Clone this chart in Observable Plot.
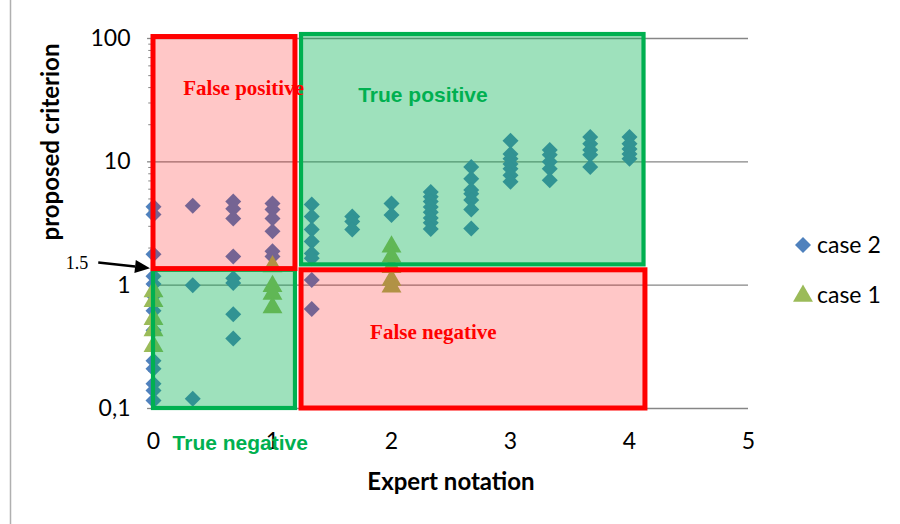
<!DOCTYPE html>
<html><head><meta charset="utf-8">
<script src="https://cdn.jsdelivr.net/npm/d3@7"></script>
<script src="https://cdn.jsdelivr.net/npm/@observablehq/plot@0.6"></script>
<style>
body{margin:0;background:#fff}
#chart{position:relative;width:900px;height:524px}
</style>
</head><body><div id="chart"></div>
<script>
// ---- data ----
const notation = [0, 0.33, 0.67, 1, 1.33, 1.67, 2, 2.33, 2.67, 3, 3.33, 3.67, 4];
const case2Values = [
  [4.33, 3.74, 1.78, 1.18, 1.02, 0.82, 0.62, 0.43, 0.244, 0.21, 0.159, 0.14, 0.116],
  [4.4, 1.0, 0.12],
  [4.76, 4.17, 3.47, 1.71, 1.14, 1.04, 0.58, 0.37],
  [4.6, 4.1, 3.47, 2.73, 1.88, 1.71],
  [4.5, 3.6, 2.83, 2.26, 1.81, 1.65, 1.1, 0.64],
  [3.6, 3.28, 2.83],
  [4.6, 3.7],
  [5.7, 5.2, 4.76, 4.3, 3.9, 3.5, 3.2, 2.85],
  [9.1, 7.3, 5.9, 5.5, 4.9, 4.1, 2.88],
  [14.8, 11.6, 10.6, 9.6, 8.8, 7.8, 6.9],
  [12.5, 11.4, 10, 8.8, 7.1],
  [15.9, 14, 12.5, 11.4, 9.1],
  [15.9, 14, 12.7, 11.6, 10.6]
];
const case1Notation = [0, 1, 2];
const case1Values = [
  [0.89, 0.74, 0.53, 0.43, 0.32],
  [1.42, 0.98, 0.85, 0.66],
  [2.05, 1.7, 1.4, 1.1, 0.97]
];
const yTicks = [0.1, 1, 10, 100];
const yTickLabels = ["0,1", "1", "10", "100"];
const xTicks = [0, 1, 2, 3, 4, 5];
const zoneNames = ["True positive", "True negative", "False positive", "False negative"];
const zoneX1 = [1.244, 0, 0, 1.244];
const zoneX2 = [4.122, 1.193, 1.193, 4.134];
const zoneY1 = [1.46, 0.1, 1.35, 0.1];
const zoneY2 = [107.7, 1.32, 102.8, 1.32];
const zoneColor = ["#00B050", "#00B050", "#FF0000", "#FF0000"];
const zoneLabelX = [1.72, 0.16, 0.25, 1.82];
const zoneLabelY = [34.7, 0.052, 39.5, 0.418];
const thresholdLabel = "1.5";
const legendLabels = ["case 2", "case 1"];

// ---- tables built from the arrays ----
const case2 = notation.flatMap((x, i) => case2Values[i].map(v => ({x, v})));
const case1 = case1Notation.flatMap((x, i) => case1Values[i].map(v => ({x, v})));
const zones = zoneNames.map((name, i) => ({
  name, x1: zoneX1[i], x2: zoneX2[i], y1: zoneY1[i], y2: zoneY2[i], color: zoneColor[i],
  lx: zoneLabelX[i], ly: zoneLabelY[i]
}));
const redZones = zones.filter(d => d.color === "#FF0000");
const greenZones = zones.filter(d => d.color !== "#FF0000");
const minor = [];
for (const d of [0.1, 1, 10]) for (let k = 2; k <= 9; k++) minor.push(d * k);

const sansFont = "Lato, 'Open Sans', sans-serif";

const plot = Plot.plot({
  width: 900, height: 524,
  marginLeft: 153, marginRight: 152, marginTop: 38, marginBottom: 116,
  x: {domain: [0, 5], axis: null},
  y: {type: "log", domain: [0.1, 100], axis: null},
  style: {background: "transparent", overflow: "visible"},
  marks: [
    Plot.ruleY(yTicks, {x1: 0, x2: 5, stroke: "#868686", strokeWidth: 1.3}),
    Plot.ruleY(yTicks, {x1: -0.05, x2: 0, stroke: "#868686", strokeWidth: 1.3}),
    Plot.ruleY(minor, {x1: -0.04, x2: 0, stroke: "#868686", strokeWidth: 1}),
    Plot.ruleX([0], {y1: 0.1, y2: 100, stroke: "#868686"}),
    Plot.dot(case2, {x: "x", y: "v", symbol: "diamond2", r: 7.2, fill: "#4F81BD", stroke: "none"}),
    Plot.dot(case1, {x: "x", y: "v", symbol: "triangle", r: 7.4, fill: "#9BBB59", stroke: "none"}),
    Plot.rect(zones, {x1: "x1", x2: "x2", y1: "y1", y2: "y2",
      fill: "color", fillOpacity: d => d.color === "#FF0000" ? 0.22 : 0.38,
      stroke: "color", strokeWidth: d => d.color === "#FF0000" ? 5 : 4.2}),
    Plot.text(yTickLabels, {x: 0, y: (d, i) => yTicks[i], text: d => d, dx: -23,
      textAnchor: "end", fontSize: 23, fontFamily: sansFont, fill: "#000"}),
    Plot.text(xTicks, {x: d => d, y: 0.1, text: d => String(d), dy: 33,
      fontSize: 23, fontFamily: sansFont, fill: "#000"}),
    Plot.text(["Expert notation"], {x: 2.5, y: 0.1, dy: 74, fontSize: 24,
      fontWeight: "bold", fontFamily: sansFont, fill: "#000"}),
    Plot.text(redZones, {x: "lx", y: "ly", text: "name", textAnchor: "start",
      fill: "#FF0000", fontWeight: "bold", fontSize: 21,
      fontFamily: "'Liberation Serif', 'Times New Roman', serif"}),
    Plot.text(greenZones, {x: "lx", y: "ly", text: "name", textAnchor: "start",
      fill: "#00B050", fontWeight: "bold", fontSize: 21,
      fontFamily: "'Liberation Sans', Arial, sans-serif"})
  ]
});

document.getElementById("chart").appendChild(plot);

const svg = d3.select(plot);
const sx = plot.scale("x"), sy = plot.scale("y");

// outer chart-area border (left edge visible)
svg.append("line").attr("x1", 10.5).attr("x2", 10.5).attr("y1", 0).attr("y2", 524)
  .attr("stroke", "#b0b0b0").attr("stroke-width", 1.5);

// y axis title
svg.append("text").attr("transform", "translate(59,142) rotate(-90)")
  .attr("text-anchor", "middle").attr("font-family", sansFont).attr("font-weight", "bold")
  .attr("font-size", 24).attr("fill", "#000").text("proposed criterion");

// 1.5 threshold annotation with arrow
const ax0 = sx.apply(-0.46), ay0 = sy.apply(1.51);
const ax1 = sx.apply(-0.025), ay1 = sy.apply(1.36);
svg.append("text").attr("x", ax0 - 10).attr("y", ay0 + 6).attr("text-anchor", "end")
  .attr("font-family", "'Liberation Serif', serif").attr("font-size", 18).attr("fill", "#000")
  .text(thresholdLabel);
const ang = Math.atan2(ay1 - ay0, ax1 - ax0);
const hl = 15, hw = 6.5;
const bx = ax1 - hl * Math.cos(ang), by = ay1 - hl * Math.sin(ang);
svg.append("line").attr("x1", ax0).attr("y1", ay0).attr("x2", bx).attr("y2", by)
  .attr("stroke", "#000").attr("stroke-width", 2.5);
svg.append("path").attr("d",
  `M${ax1},${ay1}L${bx + hw * Math.sin(ang)},${by - hw * Math.cos(ang)}L${bx - hw * Math.sin(ang)},${by + hw * Math.cos(ang)}Z`)
  .attr("fill", "#000");

// legend
const lg = svg.append("g");
const legendSymbols = [d3.symbolDiamond2, d3.symbolTriangle];
const legendColors = ["#4F81BD", "#9BBB59"];
const legendSizes = [Math.PI * 7.2 * 7.2, Math.PI * 7.4 * 7.4];
legendLabels.forEach((lab, i) => {
  const cy = 245 + i * 50;
  lg.append("path").attr("transform", `translate(803,${cy + (i ? 1 : 0)})`)
    .attr("d", d3.symbol(legendSymbols[i], legendSizes[i])()).attr("fill", legendColors[i]);
  lg.append("text").attr("x", 817).attr("y", cy).attr("dy", "0.35em")
    .attr("text-anchor", "start")
    .attr("font-family", sansFont).attr("font-size", 23).attr("fill", "#000").text(lab);
});
</script>
</body></html>
